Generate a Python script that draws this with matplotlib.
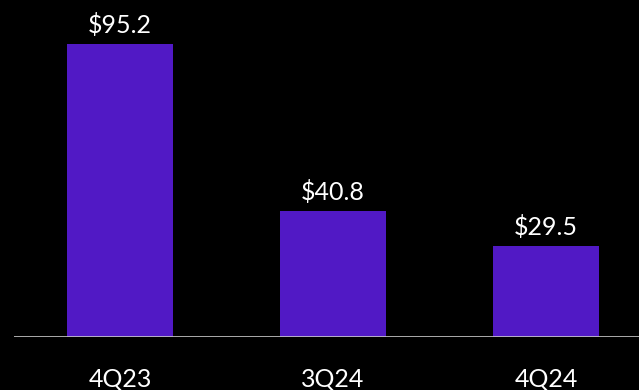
import matplotlib as mpl
import numpy as np
from matplotlib import pyplot as plt

quarters = ['4Q23', '3Q24', '4Q24']
values = [95.2, 40.8, 29.5]

bar_color = '#5119C5'
plt.rcParams['font.family'] = ['Lato', 'DejaVu Sans']

fig = plt.figure(figsize=(6.39, 3.90), dpi=100, facecolor='black')
ax = fig.add_axes([14 / 639, 53 / 390, 625 / 639, 337 / 390])
ax.set_facecolor('black')

x = np.arange(len(quarters))
ax.bar(x, values, width=0.5, color=bar_color, zorder=2)

ax.set_xlim(-0.498, 2.437)
ax.set_ylim(0, 109.4)
ax.axhline(0, color='#C8C8C8', linewidth=1.2, zorder=3)

for xi, v, q in zip(x, values, quarters):
    ax.annotate('$' + f'{v:.1f}', (xi, v), xytext=(0, 5), textcoords='offset points',
                ha='center', va='bottom', color='white', fontsize=18)
    ax.annotate(q, (xi, 0), xytext=(0, -30), textcoords='offset points',
                ha='center', va='center', color='white', fontsize=18,
                annotation_clip=False)

ax.axis('off')
plt.savefig('out.png', dpi=100, facecolor='black')
